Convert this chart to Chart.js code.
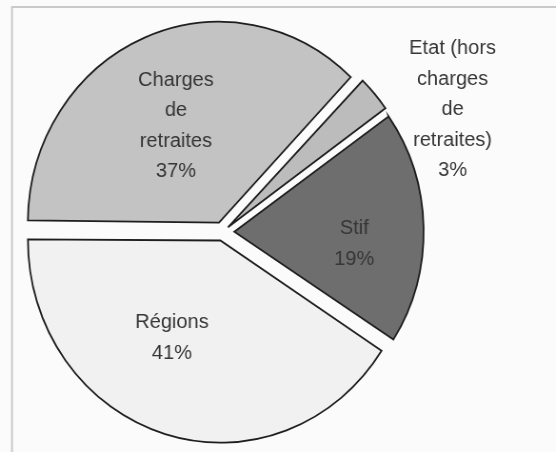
<!DOCTYPE html>
<html>
<head>
<meta charset="utf-8">
<script src="https://cdn.jsdelivr.net/npm/chart.js@4.4.1/dist/chart.umd.min.js"></script>
<style>
  html, body { margin: 0; padding: 0; background: #fbfbfb; overflow: hidden; }
  #outer { position: relative; width: 556px; height: 452px; overflow: hidden; }
  #inner { position: absolute; left: 0; top: 0; width: 584px; height: 452px;
           transform: scaleX(0.952); transform-origin: 0 0; }
  #c { display: block; width: 584px; height: 452px; }
</style>
</head>
<body>
<div id="outer"><div id="inner"><canvas id="c" width="584" height="452"></canvas></div></div>
<script>
// ---- data ----
const categories = ["Charges de retraites", "Etat (hors charges de retraites)", "Stif", "Régions"];
const shares = [37, 3, 19, 41];
const labelLines = [
  ["Charges", "de", "retraites", "37%"],
  ["Etat (hors", "charges", "de", "retraites)", "3%"],
  ["Stif", "19%"],
  ["Régions", "41%"]
];

// ---- styles ----
const SX = 0.952;                                 // horizontal squeeze of the scanned original
const fills = ["#c3c3c3", "#bcbcbc", "#6e6e6e", "#f1f1f1"];
const explodePx = 13;                             // desired visual shift of each slice
const labelRadius = [0.59, 1.367, 0.70, 0.60];   // fraction of radius
const labelAngleShift = [-2, 14, 6.3, 10];        // degrees
const LINE_H = 30.5;

// Chart.js translates an arc by offset/4 * (2 - sin(min(PI, circumference)))
function offsetFor(ctx) {
  const total = shares.reduce((a, b) => a + b, 0);
  const circ = shares[ctx.dataIndex] / total * 2 * Math.PI;
  const factor = (2 - Math.sin(Math.min(Math.PI, circ))) / 4;
  return explodePx / factor;
}

const framePlugin = {
  id: 'frame',
  beforeDraw(chart) {
    const ctx = chart.ctx;
    ctx.save();
    ctx.strokeStyle = '#c9c9c9';
    ctx.lineWidth = 2;
    ctx.beginPath();
    ctx.moveTo(12 / SX, 452);
    ctx.lineTo(12 / SX, 7);
    ctx.lineTo(chart.width, 7);
    ctx.stroke();
    ctx.restore();
  }
};

const labelPlugin = {
  id: 'sliceLabels',
  afterDatasetsDraw(chart) {
    const ctx = chart.ctx;
    const meta = chart.getDatasetMeta(0);
    ctx.save();
    ctx.font = '20px "Liberation Sans", Arial, sans-serif';
    ctx.fillStyle = '#363636';
    ctx.textAlign = 'center';
    ctx.textBaseline = 'middle';
    meta.data.forEach((arc, i) => {
      const p = arc.getProps(['x', 'y', 'startAngle', 'endAngle', 'outerRadius'], true);
      const mid = (p.startAngle + p.endAngle) / 2 + labelAngleShift[i] * Math.PI / 180;
      const r = p.outerRadius * labelRadius[i];
      const cx = p.x + Math.cos(mid) * r;
      const cy = p.y + Math.sin(mid) * r;
      const lines = labelLines[i];
      const y0 = -(lines.length - 1) * LINE_H / 2;
      ctx.save();
      ctx.translate(cx, cy);
      ctx.scale(1 / SX, 1);
      lines.forEach((t, k) => ctx.fillText(t, 0, y0 + k * LINE_H));
      ctx.restore();
    });
    ctx.restore();
  }
};

new Chart(document.getElementById('c'), {
  type: 'pie',
  data: {
    labels: categories,
    datasets: [{
      data: shares,
      backgroundColor: fills,
      borderColor: '#1e1e1e',
      borderWidth: 1.8,
      borderJoinStyle: 'miter',
      borderAlign: 'center',
      offset: offsetFor,
      hoverOffset: 0,
      radius: 198
    }]
  },
  options: {
    responsive: false,
    animation: false,
    rotation: 270.5,
    layout: { padding: { left: 0, right: 116, top: 12, bottom: 0 } },
    plugins: {
      legend: { display: false },
      tooltip: { enabled: false }
    },
    events: []
  },
  plugins: [framePlugin, labelPlugin]
});
</script>
</body>
</html>
